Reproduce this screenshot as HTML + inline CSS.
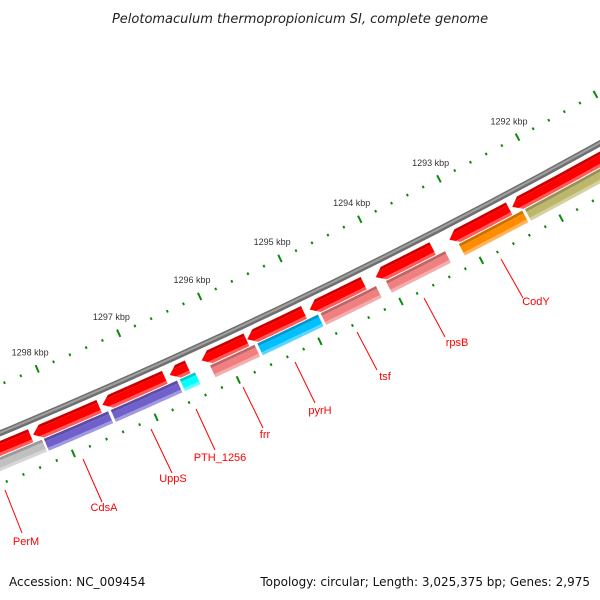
<!DOCTYPE html>
<html><head><meta charset="utf-8"><style>
html,body{margin:0;padding:0;background:#fff}
svg{display:block}
text{font-family:"Liberation Sans","DejaVu Sans",sans-serif}
.dv{font-family:"DejaVu Sans","Liberation Sans",sans-serif}
</style></head><body>
<svg id="map" width="600" height="600" viewBox="0 0 600 600">
<text class="dv" x="300" y="23" text-anchor="middle" font-size="13" font-style="italic" fill="#222">Pelotomaculum thermopropionicum SI, complete genome</text>
<g id="ring"></g>
<g id="leaders" stroke="#ff0000" stroke-width="1" font-size="11" fill="#ff0000">
<line x1="5" y1="490" x2="22" y2="533"/>
<line x1="83" y1="459" x2="102" y2="502"/>
<line x1="151" y1="429" x2="172" y2="473"/>
<line x1="196" y1="409" x2="215" y2="450"/>
<line x1="243" y1="387" x2="263" y2="428"/>
<line x1="295" y1="362" x2="315" y2="403"/>
<line x1="357" y1="332" x2="377" y2="370"/>
<line x1="424" y1="298" x2="445" y2="337"/>
<line x1="501" y1="259" x2="523" y2="298"/>
<text stroke="none" x="26" y="545" text-anchor="middle">PerM</text>
<text stroke="none" x="104" y="511" text-anchor="middle">CdsA</text>
<text stroke="none" x="173" y="482" text-anchor="middle">UppS</text>
<text stroke="none" x="220" y="461" text-anchor="middle">PTH_1256</text>
<text stroke="none" x="265" y="438" text-anchor="middle">frr</text>
<text stroke="none" x="320" y="414" text-anchor="middle">pyrH</text>
<text stroke="none" x="385" y="380" text-anchor="middle">tsf</text>
<text stroke="none" x="457" y="346" text-anchor="middle">rpsB</text>
<text stroke="none" x="536" y="305" text-anchor="middle">CodY</text>
</g>
<text class="dv" x="9" y="586" font-size="12" fill="#111">Accession: NC_009454</text>
<text class="dv" x="590" y="586" font-size="12" fill="#111" text-anchor="end">Topology: circular; Length: 3,025,375 bp; Genes: 2,975</text>
</svg>
<script>
// data (kbp)
const tickLabels = [1292, 1293, 1294, 1295, 1296, 1297, 1298];
const fwdStarts = [1298.36, 1297.53, 1296.73, 1296.45, 1295.73, 1295.02, 1294.28, 1293.42, 1292.46, 1290.5];
const fwdEnds   = [1299.6, 1298.33, 1297.49, 1296.67, 1296.28, 1295.72, 1294.95, 1294.13, 1293.21, 1292.42];
const fwdArrow  = [0, 1, 1, 1, 1, 1, 1, 1, 1, 1];
const cogStarts = [1298.25, 1297.45, 1296.61, 1296.39, 1295.66, 1294.88, 1294.16, 1293.30, 1292.33, 1290.5];
const cogEnds   = [1299.6, 1298.25, 1297.44, 1296.60, 1296.23, 1295.65, 1294.87, 1294.06, 1293.15, 1292.32];
const cogColors = ["#c0c0c0", "#7060cc", "#7060cc", "#00ffff", "#f08080", "#00bfff", "#f08080", "#f08080", "#ff8c00", "#bdb76b"];
const cogNames  = ["PerM", "CdsA", "UppS", "PTH_1256", "frr", "pyrH", "tsf", "rpsB", "CodY", "olive-gene"];

const CX = -2278, CY = -5046;
const NS = "http://www.w3.org/2000/svg";
function ang(k){ return (61.66 + (k - 1292) * 0.865) * Math.PI / 180; }
function pt(k, r){ const a = ang(k); return [CX + r * Math.cos(a), CY + r * Math.sin(a)]; }
const ring = document.getElementById('ring');
function mk(tag, attrs){ const e = document.createElementNS(NS, tag); for (const k in attrs) e.setAttribute(k, attrs[k]); ring.appendChild(e); return e; }
function shade(hex, f){
  let r = parseInt(hex.substr(1,2),16), g = parseInt(hex.substr(3,2),16), b = parseInt(hex.substr(5,2),16);
  if (f < 0){ r *= (1+f); g *= (1+f); b *= (1+f); } else { r += (255-r)*f; g += (255-g)*f; b += (255-b)*f; }
  return "rgb(" + Math.round(r) + "," + Math.round(g) + "," + Math.round(b) + ")";
}
function arcPts(k0, k1, r){ const out = []; const n = 16; for (let i = 0; i <= n; i++){ out.push(pt(k0 + (k1-k0)*i/n, r)); } return out; }

// backbone
let e = mk('polyline', {points: arcPts(1290, 1300.5, 5934).map(p => p.join(',')).join(' '), fill: 'none', stroke: '#6f6f6f', 'stroke-width': 6});


e = mk('polyline', {points: arcPts(1290, 1300.5, 5933.5).map(p => p.join(',')).join(' '), fill: 'none', stroke: '#a0a0a0', 'stroke-width': 2});



// rulers
[5889, 5981].forEach((R, ri) => {
  for (let i = 0; i <= 55; i++){
    const k = 1289 + i * 0.2;
    const major = Math.abs(k - Math.round(k)) < 1e-6;
    const h = major ? 4 : 1.3;
    const a = pt(k, R - h), b = pt(k, R + h);
    const t = mk('line', {x1: a[0], y1: a[1], x2: b[0], y2: b[1], stroke: '#0b8a0b', 'stroke-width': 2});
    
    
  }
});
tickLabels.forEach(k => {
  const p = pt(k, 5871);
  const t = mk('text', {x: p[0], y: p[1] + 3, 'text-anchor': 'middle', 'font-size': 9, fill: '#333'});
  t.textContent = k + ' kbp';
  
  
});

// feature drawing
function feature(k0, k1, r0, r1, color, arrow, name){
  const rm = (r0 + r1) / 2, head = arrow ? 0.1 : 0;
  const endAt = r => k1 - head * Math.abs(r - rm) / ((r1 - r0) / 2);
  const bands = [[r0, r0 + 3, shade(color, -0.2)], [r0 + 3, r1 - 3, color], [r1 - 3, r1, shade(color, 0.35)]];
  const g = document.createElementNS(NS, 'g');
  
  
  ring.appendChild(g);
  bands.forEach(([ra, rb, c]) => {
    let pts = arcPts(k0, endAt(ra), ra);
    if (arrow && ra < rm && rb > rm) pts.push(pt(k1, rm));
    pts = pts.concat(arcPts(endAt(rb), k0, rb));
    const p = document.createElementNS(NS, 'polygon');
    p.setAttribute('points', pts.map(q => q.join(',')).join(' '));
    p.setAttribute('fill', c);
    
    
    g.appendChild(p);
  });
}
for (let i = 0; i < fwdStarts.length; i++){
  feature(fwdStarts[i], fwdEnds[i], 5941, 5955, '#ff0000', fwdArrow[i], 'cds-feature');
}
for (let i = 0; i < cogStarts.length; i++){
  feature(cogStarts[i] + 0.012, cogEnds[i] - 0.012, 5956, 5969, cogColors[i], 0, 'gene-' + cogNames[i].toLowerCase().replace('_','-'));
}
</script>
</body></html>
